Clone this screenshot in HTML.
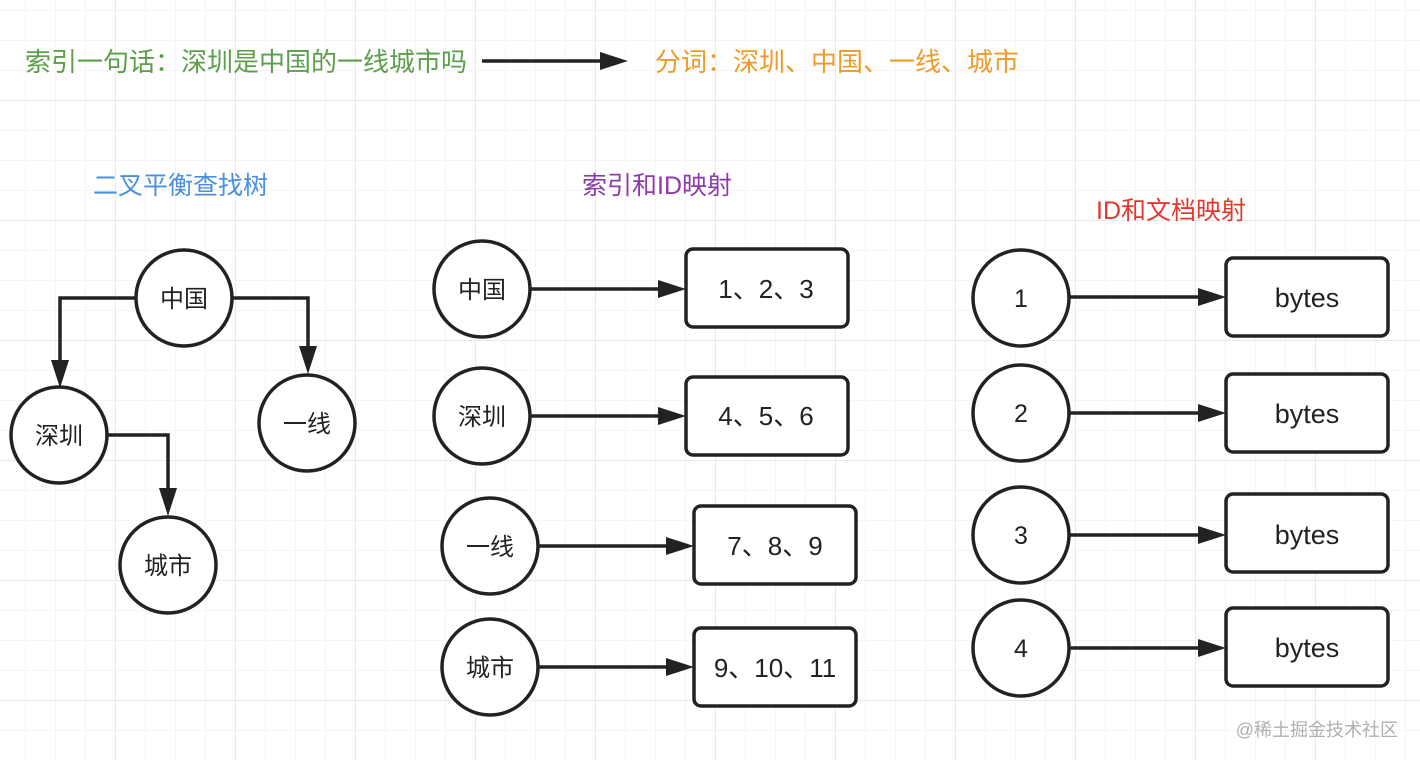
<!DOCTYPE html>
<html><head><meta charset="utf-8"><style>
html,body{margin:0;padding:0;background:#fff}
svg{display:block}
text{font-family:"Liberation Sans","Noto Sans CJK SC",sans-serif}
</style></head><body>
<svg width="1420" height="760" viewBox="0 0 1420 760" xmlns="http://www.w3.org/2000/svg">
<defs>
<pattern id="g" x="25" y="10" width="30" height="30" patternUnits="userSpaceOnUse">
<path d="M0 0H30M0 0V30" stroke="#f2f2f2" stroke-width="1.5" fill="none"/>
</pattern>
<pattern id="G" x="115" y="100" width="120" height="120" patternUnits="userSpaceOnUse">
<path d="M0 0H120M0 0V120" stroke="#e9e9e9" stroke-width="2" fill="none"/>
</pattern>
</defs>
<rect width="1420" height="760" fill="url(#g)"/>
<rect width="1420" height="760" fill="url(#G)"/>

<g font-size="26">
<text x="25" y="71" fill="#5b9f4a">索引一句话：深圳是中国的一线城市吗</text>
<text x="655" y="71" fill="#f09a2a">分词：深圳、中国、一线、城市</text>
<text x="93" y="194" fill="#4a8fe0" font-size="25">二叉平衡查找树</text>
<text x="582" y="194" fill="#8e3aaa" font-size="25">索引和ID映射</text>
<text x="1096" y="219" fill="#e03a2e" font-size="25">ID和文档映射</text>
</g>

<g stroke="#222" stroke-width="3.5" fill="none">
<path d="M482 61H602"/>
<path d="M135 298H60V362"/>
<path d="M233 298H308V348"/>
<path d="M108 435H168V490"/>
<path d="M531 289H660"/>
<path d="M531 416H660"/>
<path d="M539 546H668"/>
<path d="M539 667H668"/>
<path d="M1070 297H1200"/>
<path d="M1070 413H1200"/>
<path d="M1070 535H1200"/>
<path d="M1070 648H1200"/>
</g>
<g fill="#222">
<path d="M600 52L628 61L600 70Z"/>
<path d="M51 360L60 388L69 360Z"/>
<path d="M299 346L308 374L317 346Z"/>
<path d="M159 488L168 516L177 488Z"/>
<path d="M658 280L686 289L658 298Z"/>
<path d="M658 407L686 416L658 425Z"/>
<path d="M666 537L694 546L666 555Z"/>
<path d="M666 658L694 667L666 676Z"/>
<path d="M1198 288L1226 297L1198 306Z"/>
<path d="M1198 404L1226 413L1198 422Z"/>
<path d="M1198 526L1226 535L1198 544Z"/>
<path d="M1198 639L1226 648L1198 657Z"/>
</g>

<g stroke="#222" stroke-width="3.5" fill="#fff">
<circle cx="184" cy="298" r="48"/>
<circle cx="59" cy="435" r="48"/>
<circle cx="307" cy="423" r="48"/>
<circle cx="168" cy="565" r="48"/>
<circle cx="482" cy="289" r="48"/>
<circle cx="482" cy="416" r="48"/>
<circle cx="490" cy="546" r="48"/>
<circle cx="490" cy="667" r="48"/>
<circle cx="1021" cy="298" r="48"/>
<circle cx="1021" cy="413" r="48"/>
<circle cx="1021" cy="535" r="48"/>
<circle cx="1021" cy="648" r="48"/>
<rect x="686" y="249" width="162" height="78" rx="7"/>
<rect x="686" y="377" width="162" height="78" rx="7"/>
<rect x="694" y="506" width="162" height="78" rx="7"/>
<rect x="694" y="628" width="162" height="78" rx="7"/>
<rect x="1226" y="258" width="162" height="78" rx="7"/>
<rect x="1226" y="374" width="162" height="78" rx="7"/>
<rect x="1226" y="494" width="162" height="78" rx="7"/>
<rect x="1226" y="608" width="162" height="78" rx="7"/>
</g>

<g font-size="24" fill="#222" text-anchor="middle">
<text x="184" y="307">中国</text>
<text x="59" y="444">深圳</text>
<text x="307" y="432">一线</text>
<text x="168" y="574">城市</text>
<text x="482" y="298">中国</text>
<text x="482" y="425">深圳</text>
<text x="490" y="555">一线</text>
<text x="490" y="676">城市</text>
</g>
<g font-size="25" fill="#222" text-anchor="middle">
<text x="1021" y="307">1</text>
<text x="1021" y="422">2</text>
<text x="1021" y="544">3</text>
<text x="1021" y="657">4</text>
</g>
<g font-size="26" fill="#222" text-anchor="middle">
<text x="766" y="298">1、2、3</text>
<text x="766" y="425">4、5、6</text>
<text x="775" y="555">7、8、9</text>
<text x="775" y="677">9、10、11</text>
</g>
<g font-size="27" fill="#222" text-anchor="middle">
<text x="1307" y="307">bytes</text>
<text x="1307" y="423">bytes</text>
<text x="1307" y="544">bytes</text>
<text x="1307" y="657">bytes</text>
</g>
<text x="1398" y="736" font-size="18" fill="#b0b0b0" text-anchor="end">@稀土掘金技术社区</text>
</svg>
</body></html>
